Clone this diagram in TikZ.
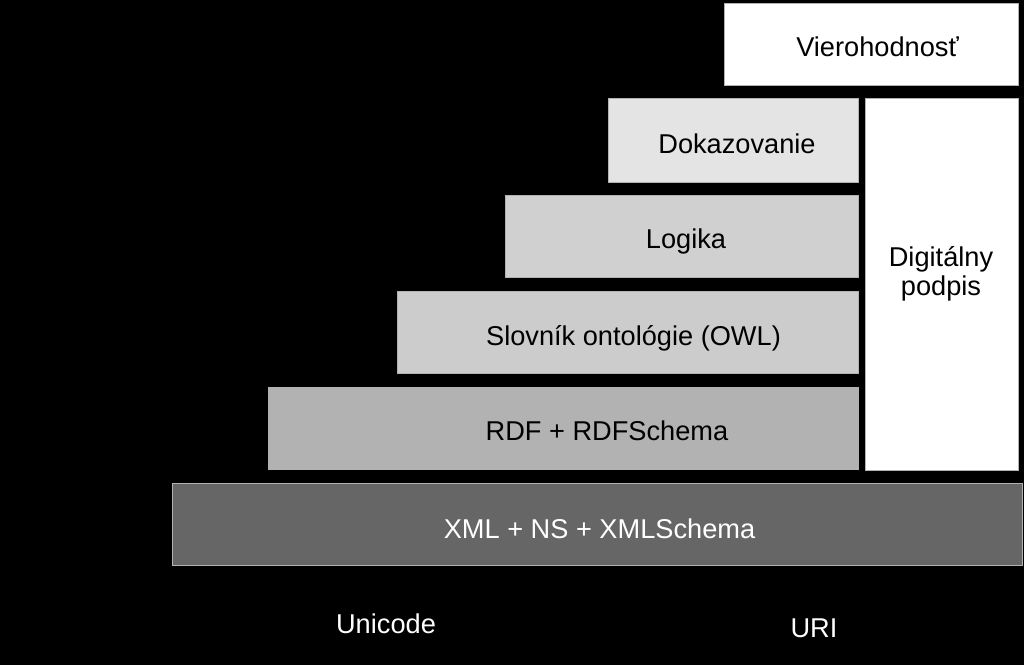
\documentclass[tikz,border=0pt]{standalone}
\usepackage{fontspec}
\setmainfont{Liberation Sans}
\begin{document}
\begin{tikzpicture}[x=0.75pt,y=-0.75pt,
  layer/.style={draw=gray!60,line width=0.6pt,anchor=north west,inner sep=0pt,minimum height=61.5pt},
  lbl/.style={anchor=base,inner sep=0pt,font=\fontsize{20.4}{24}\selectfont,text=black},
  wlbl/.style={lbl,text=white}]
\fill[black] (0,0) rectangle (1024,665);
\useasboundingbox (0,0) rectangle (1024,665);
\node[layer,fill=white,minimum width=220.5pt] (trust) at (724,3) {};
\node[layer,fill=gray!21,minimum width=187.5pt,minimum height=63pt] (proof) at (608,98) {};
\node[layer,fill=white,minimum width=114.75pt,minimum height=279pt] (sig) at (865,98) {};
\node[layer,fill=gray!37,minimum width=264.75pt] (logic) at (505,195) {};
\node[layer,fill=gray!40,minimum width=345.75pt] (owl) at (397,291) {};
\node[layer,fill=gray!60,minimum width=442.5pt] (rdf) at (268,387) {};
\node[layer,fill=black!60,minimum width=637.5pt] (xml) at (172,483) {};
\node[lbl] (ttrust) at (877.5,56) {Vierohodnosť};
\node[lbl] (tproof) at (737,153) {Dokazovanie};
\node[lbl] (tlogic) at (686,248) {Logika};
\node[lbl] (tsig1) at (941,266) {Digitálny};
\node[lbl] (tsig2) at (941,295) {podpis};
\node[lbl] (towl) at (633.5,345) {Slovník ontológie (OWL)};
\node[lbl] (trdf) at (607,440) {RDF + RDFSchema};
\node[wlbl] (txml) at (599.5,538) {XML + NS + XMLSchema};
\node[wlbl] (uni) at (386,633) {Unicode};
\node[wlbl] (uri) at (814,637) {URI};
\end{tikzpicture}
\end{document}
